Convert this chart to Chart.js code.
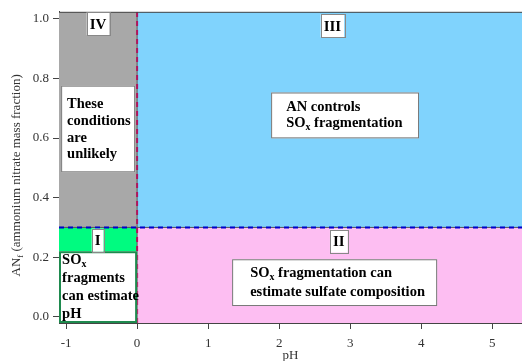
<!DOCTYPE html>
<html lang="en">
<head>
    <meta charset="UTF-8">
    <title>AN fraction vs pH regimes</title>
    <script src="https://cdn.jsdelivr.net/npm/chart.js"></script>
    <style>
        body { margin: 0; background: #fff; }
    </style>
</head>
<body>
    <canvas id="regimeChart" width="522" height="361"></canvas>

    <script>
        // axis limits and splits (pH, ammonium nitrate fraction)
        var phLimits = [-1.1, 5.42];
        var anLimits = [-0.021, 1.024];
        var phSplit = 0;
        var anSplit = 0.3;
        var phTicks = [-1, 0, 1, 2, 3, 4, 5];
        var anTicks = [0, 0.2, 0.4, 0.6, 0.8, 1.0];

        var regionNames = ['I', 'II', 'III', 'IV'];
        var regionColors = ['#00fb80', '#fdbef2', '#80d3fd', '#a8a8a8'];

        var serif = '"Liberation Serif", "Times New Roman", serif';

        // text boxes, placed in data coords
        var labelBoxes = [
            { text: 'I', x: -0.556, y: 0.257 },
            { text: 'II', x: 2.84, y: 0.254 },
            { text: 'III', x: 2.75, y: 0.977 },
            { text: 'IV', x: -0.55, y: 0.984 }
        ];
        var noteBoxes = [
            { x1: -1.07, x2: -0.028, y1: 0.776, y2: 0.485, tx: -0.986, ty: 0.713, gap: 16.7, border: '#777', bw: 1,
              lines: [[['These']], [['conditions']], [['are']], [['unlikely']]] },
            { x1: 1.887, x2: 3.97, y1: 0.753, y2: 0.599, tx: 2.099, ty: 0.703, gap: 16, border: '#777', bw: 1,
              lines: [[['AN controls']], [['SO'], ['x', 1], [' fragmentation']]] },
            { x1: 1.338, x2: 4.225, y1: 0.193, y2: 0.036, tx: 1.592, ty: 0.146, gap: 19, border: '#777', bw: 1,
              lines: [[['SO'], ['x', 1], [' fragmentation can']], [['estimate sulfate composition']]] },
            { x1: -1.1, x2: 0, y1: 0.22, y2: -0.021, tx: -1.056, ty: 0.19, gap: 18, border: '#1e8a4e', bw: 2,
              lines: [[['SO'], ['x', 1]], [['fragments']], [['can estimate']], [['pH']]] }
        ];

        function hLine(x0, x1, y) { return [{ x: x0, y: y }, { x: x1, y: y }]; }

        function drawRich(ctx, segs, x, y, size, bold) {
            var w = bold ? 'bold ' : '';
            segs.forEach(function(s) {
                var sub = s[1];
                ctx.font = w + (sub ? size * 0.68 : size) + 'px ' + serif;
                ctx.fillText(s[0], x, sub ? y + size * 0.3 : y);
                x += ctx.measureText(s[0]).width;
            });
            return x;
        }

        var boxPlugin = {
            id: 'boxes',
            afterDatasetsDraw: function(chart) {
                var ctx = chart.ctx, xs = chart.scales.x, ys = chart.scales.y, a = chart.chartArea;
                ctx.save();
                // top frame line
                ctx.strokeStyle = '#444';
                ctx.lineWidth = 1;
                ctx.beginPath();
                ctx.moveTo(a.left, a.top + 0.5);
                ctx.lineTo(a.right, a.top + 0.5);
                ctx.stroke();

                ctx.textBaseline = 'middle';
                ctx.fillStyle = '#000';

                noteBoxes.forEach(function(b) {
                    var l = xs.getPixelForValue(b.x1), r = xs.getPixelForValue(b.x2);
                    var t = ys.getPixelForValue(b.y1), btm = ys.getPixelForValue(b.y2);
                    ctx.fillStyle = '#fff';
                    ctx.fillRect(l, t, r - l, btm - t);
                    ctx.strokeStyle = b.border;
                    ctx.lineWidth = b.bw;
                    var o = b.bw / 2;
                    ctx.strokeRect(l + o, t + o, r - l - b.bw, btm - t - b.bw);
                    ctx.fillStyle = '#000';
                    var tx = xs.getPixelForValue(b.tx), ty = ys.getPixelForValue(b.ty);
                    b.lines.forEach(function(line, i) {
                        drawRich(ctx, line, tx, ty + i * b.gap, 14.5, true);
                    });
                });

                labelBoxes.forEach(function(b) {
                    ctx.font = 'bold 15px ' + serif;
                    var tw = ctx.measureText(b.text).width;
                    var cx = xs.getPixelForValue(b.x), cy = ys.getPixelForValue(b.y);
                    var w = tw + 6, h = 23;
                    ctx.fillStyle = '#fff';
                    ctx.fillRect(cx - w / 2, cy - h / 2, w, h);
                    ctx.strokeStyle = '#888';
                    ctx.lineWidth = 1;
                    ctx.strokeRect(Math.round(cx - w / 2) + 0.5, Math.round(cy - h / 2) + 0.5, Math.round(w), h);
                    ctx.fillStyle = '#000';
                    ctx.textAlign = 'center';
                    ctx.fillText(b.text, cx, cy + 1);
                    ctx.textAlign = 'left';
                });

                // y axis title with subscript
                ctx.translate(17, (a.top + a.bottom) / 2 + 8);
                ctx.rotate(-Math.PI / 2);
                ctx.fillStyle = '#333';
                var segs = [['AN'], ['f', 1], [' (ammonium nitrate mass fraction)']];
                var total = 0;
                segs.forEach(function(s) {
                    ctx.font = (s[1] ? 13 * 0.68 : 13) + 'px ' + serif;
                    total += ctx.measureText(s[0]).width;
                });
                drawRich(ctx, segs, -total / 2, 0, 13, false);
                ctx.restore();
            }
        };

        var fillLeft = hLine(phLimits[0], phSplit, anSplit);
        var fillRight = hLine(phSplit, phLimits[1], anSplit);

        var ctx = document.getElementById('regimeChart').getContext('2d');
        var regimeChart = new Chart(ctx, {
            type: 'line',
            data: {
                datasets: [
                    // boundary lines (drawn on top)
                    { data: hLine(phLimits[0], phLimits[1], anSplit), borderColor: '#0000cc', borderWidth: 2, borderDash: [5, 4], pointRadius: 0, fill: false, order: 0 },
                    { data: [{ x: phSplit, y: anLimits[0] }, { x: phSplit, y: anLimits[1] }], borderColor: '#b0145c', borderWidth: 2, borderDash: [5, 4], pointRadius: 0, fill: false, order: 0 },
                    { data: hLine(phLimits[0], phLimits[1], anSplit), borderColor: '#555', borderWidth: 1, pointRadius: 0, fill: false, order: 1 },
                    { data: [{ x: phSplit, y: anLimits[0] }, { x: phSplit, y: anLimits[1] }], borderColor: '#555', borderWidth: 1, pointRadius: 0, fill: false, order: 1 },
                    // regions I-IV
                    { label: regionNames[0], data: fillLeft, backgroundColor: regionColors[0], borderWidth: 0, pointRadius: 0, fill: 'start', order: 2 },
                    { label: regionNames[1], data: fillRight, backgroundColor: regionColors[1], borderWidth: 0, pointRadius: 0, fill: 'start', order: 2 },
                    { label: regionNames[2], data: fillRight, backgroundColor: regionColors[2], borderWidth: 0, pointRadius: 0, fill: 'end', order: 2 },
                    { label: regionNames[3], data: fillLeft, backgroundColor: regionColors[3], borderWidth: 0, pointRadius: 0, fill: 'end', order: 2 }
                ]
            },
            options: {
                responsive: false,
                animation: false,
                layout: { padding: { top: 11, right: 0, left: 0, bottom: 0 } },
                plugins: {
                    legend: { display: false },
                    tooltip: { enabled: false }
                },
                scales: {
                    x: {
                        type: 'linear',
                        min: phLimits[0],
                        max: phLimits[1],
                        afterBuildTicks: function(s) { s.ticks = phTicks.map(function(v) { return { value: v }; }); },
                        afterFit: function(s) { s.height = 38; },
                        grid: { drawOnChartArea: false, drawTicks: true, tickLength: 6, color: '#444' },
                        border: { display: true, color: '#444', width: 1 },
                        ticks: { padding: 7, color: '#333', font: { family: serif, size: 13 }, maxRotation: 0,
                                 callback: function(v) { return String(v); } },
                        title: { display: true, text: 'pH', color: '#333', font: { family: serif, size: 13 }, padding: { top: 0, bottom: -2 } }
                    },
                    y: {
                        type: 'linear',
                        min: anLimits[0],
                        max: anLimits[1],
                        afterBuildTicks: function(s) { s.ticks = anTicks.map(function(v) { return { value: v }; }); },
                        afterFit: function(s) { s.width = 59; },
                        grid: { drawOnChartArea: false, drawTicks: true, tickLength: 6, color: '#444' },
                        border: { display: true, color: '#444', width: 1 },
                        ticks: { padding: 4, color: '#333', font: { family: serif, size: 13 },
                                 callback: function(v) { return v.toFixed(1); } }
                    }
                }
            },
            plugins: [boxPlugin]
        });
    </script>
</body>
</html>
